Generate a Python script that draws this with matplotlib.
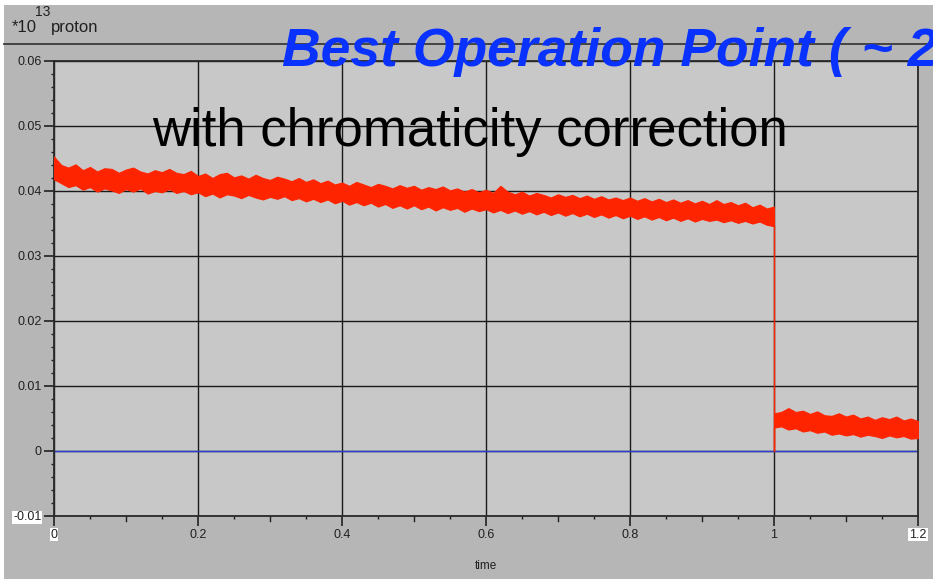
import numpy as np
import matplotlib
matplotlib.use("Agg")
import matplotlib.pyplot as plt
from matplotlib.transforms import blended_transform_factory
from matplotlib.ticker import FixedLocator

# beam intensity in units of 1e13 protons, read as upper/lower edges of the noisy trace
t_before = np.linspace(0.0, 1.0, 101)
upper_before = np.array([
    45.3, 44.0, 43.6, 44.1, 43.2, 43.7, 43.0, 43.5, 43.4, 42.8,
    43.3, 43.6, 43.0, 42.7, 43.2, 42.9, 43.4, 42.8, 42.6, 43.1,
    42.3, 42.7, 42.0, 42.6, 42.8, 42.1, 42.4, 41.9, 42.5, 42.0,
    41.7, 42.2, 41.9, 41.5, 42.0, 41.4, 41.8, 41.2, 41.6, 41.0,
    41.3, 40.8, 41.4, 41.0, 40.6, 41.1, 40.8, 40.4, 40.9, 40.5,
    40.8, 40.2, 40.6, 40.3, 40.7, 40.1, 40.4, 39.9, 40.3, 39.8,
    40.2, 39.7, 40.8, 39.9, 39.5, 39.9, 39.3, 39.7, 39.4, 39.0,
    39.5, 39.1, 39.4, 38.9, 39.3, 38.8, 39.2, 38.7, 39.0, 38.6,
    39.0, 38.5, 38.9, 38.4, 38.8, 38.3, 38.7, 38.2, 38.6, 38.1,
    38.5, 38.0, 38.6, 38.0, 38.3, 37.8, 38.2, 37.5, 37.9, 37.3,
    37.6]) * 1e-3
lower_before = np.array([
    41.8, 41.2, 40.6, 40.9, 40.2, 40.6, 39.9, 40.4, 40.1, 39.7,
    40.3, 39.9, 40.4, 39.6, 40.0, 39.8, 40.3, 39.7, 40.0, 39.5,
    39.8, 39.2, 39.6, 39.0, 39.5, 39.3, 38.9, 39.4, 39.0, 38.7,
    39.1, 38.8, 39.2, 38.6, 38.9, 38.4, 38.8, 38.3, 38.7, 38.1,
    38.5, 37.9, 38.3, 37.8, 38.2, 37.6, 38.0, 37.4, 37.8, 37.3,
    37.8, 37.2, 37.6, 37.0, 37.5, 37.1, 37.4, 36.8, 37.3, 36.9,
    37.2, 36.7, 37.1, 36.6, 37.0, 36.5, 36.9, 36.4, 36.8, 36.3,
    36.7, 36.2, 36.6, 36.1, 36.5, 36.0, 36.4, 35.9, 36.3, 35.8,
    36.2, 35.7, 36.1, 35.6, 36.0, 35.5, 35.9, 35.4, 35.8, 35.3,
    35.7, 35.4, 35.6, 35.2, 35.5, 35.1, 35.4, 35.0, 35.3, 34.8,
    34.6]) * 1e-3

# the dump at t = 1
drop_t = [1.0, 1.0, 1.0]
drop_v = [0.0346, 0.0, 0.0036]

t_after = np.linspace(1.0, 1.2, 21)
upper_after = np.array([
    5.8, 6.0, 6.6, 6.0, 6.2, 5.7, 6.1, 5.5, 5.4, 5.8, 5.3,
    5.6, 5.0, 5.3, 4.8, 5.2, 4.9, 5.3, 4.7, 5.0, 4.6]) * 1e-3
lower_after = np.array([
    3.6, 3.8, 3.3, 3.5, 3.0, 3.2, 2.8, 3.0, 2.5, 2.7, 2.4,
    2.6, 2.2, 2.5, 2.3, 2.0, 2.4, 2.1, 2.3, 1.9, 2.0]) * 1e-3

x_ticks = [0, 0.2, 0.4, 0.6, 0.8, 1.0, 1.2]
x_labels = ["0", "0.2", "0.4", "0.6", "0.8", "1", "1.2"]
y_ticks = [-0.01, 0, 0.01, 0.02, 0.03, 0.04, 0.05, 0.06]
y_labels = ["-0.01", "0", "0.01", "0.02", "0.03", "0.04", "0.05", "0.06"]

RED = "#ff2400"
BLUE = "#0a32ff"
W, H = 933, 579

sans = ["Liberation Sans", "DejaVu Sans"]

fig = plt.figure(figsize=(W / 100, H / 100), dpi=100, facecolor="#b6b6b6")
ax = fig.add_axes([54 / W, 1 - 516 / H, 864 / W, 455 / H], facecolor="#c8c8c8")

# white strips at the top and left edge
fig.patches.append(plt.Rectangle((0, 1 - 5 / H), 1, 5 / H, transform=fig.transFigure,
                                 facecolor="white", edgecolor="none"))
fig.patches.append(plt.Rectangle((0, 0), 4 / W, 1, transform=fig.transFigure,
                                 facecolor="white", edgecolor="none"))
# separator line under the unit label
fig.add_artist(plt.Line2D([4 / W, 1], [1 - 44 / H, 1 - 44 / H], color="#3a3a3a", lw=1.3))

ax.fill_between(t_before, lower_before, upper_before, color=RED, lw=0.8, zorder=3)
ax.plot(drop_t, drop_v, color=RED, lw=1.0, zorder=3)
ax.fill_between(t_after, lower_after, upper_after, color=RED, lw=0.8, zorder=3)
ax.axhline(0, color="#2a3fd0", lw=1.0, zorder=2)

ax.set_xlim(0, 1.2)
ax.set_ylim(-0.01, 0.06)
ax.set_xticks(x_ticks)
ax.set_xticklabels(x_labels, family=sans, fontsize=9, color="#202020")
ax.set_yticks(y_ticks)
ax.set_yticklabels(y_labels, family=sans, fontsize=9, color="#202020")
ax.yaxis.set_minor_locator(FixedLocator(np.arange(-0.01, 0.0601, 0.002)))
ax.xaxis.set_minor_locator(FixedLocator([0.05, 0.15, 0.25, 0.35, 0.45, 0.55, 0.65,
                                         0.75, 0.85, 0.95, 1.05, 1.15]))
ax.tick_params(axis="both", which="major", length=7, width=1.2, color="#202020", pad=2)
ax.tick_params(axis="both", which="minor", length=2.5, width=1.0, color="#202020")
ax.grid(True, which="major", color="#1a1a1a", lw=1.0)
ax.set_axisbelow(True)
for s in ax.spines.values():
    s.set_color("#2a2a2a")
    s.set_linewidth(1.3)

# longer half-way ticks on the time axis
trans = blended_transform_factory(ax.transData, ax.transAxes)
for xm in [0.1, 0.3, 0.5, 0.7, 0.9, 1.1]:
    ax.plot([xm, xm], [0, -5 / 455], color="#202020", lw=1.0, transform=trans, clip_on=False)

box = dict(facecolor="white", edgecolor="none", pad=0.6)
ax.get_yticklabels()[0].set_bbox(box)
xl = ax.get_xticklabels()
xl[0].set_bbox(box)
xl[-1].set_bbox(box)

ax.set_xlabel("time", family=sans, fontsize=8.5, color="#202020", labelpad=14)

fig.text(12 / W, 1 - 32 / H, "*10", family=sans, fontsize=12, color="#202020")
fig.text(35 / W, 1 - 16 / H, "13", family=sans, fontsize=10, color="#202020")
fig.text(51 / W, 1 - 32 / H, "proton", family=sans, fontsize=12, color="#202020")

fig.text(282 / W, 1 - 66 / H, "Best Operation Point ( ~ 2", family=sans, fontsize=38.5,
         fontweight="bold", fontstyle="italic", color=BLUE)
fig.text(152 / W, 1 - 146 / H, "with chromaticity correction", family=sans, fontsize=38,
         color="black")

fig.savefig("out.png", dpi=100, facecolor=fig.get_facecolor())
